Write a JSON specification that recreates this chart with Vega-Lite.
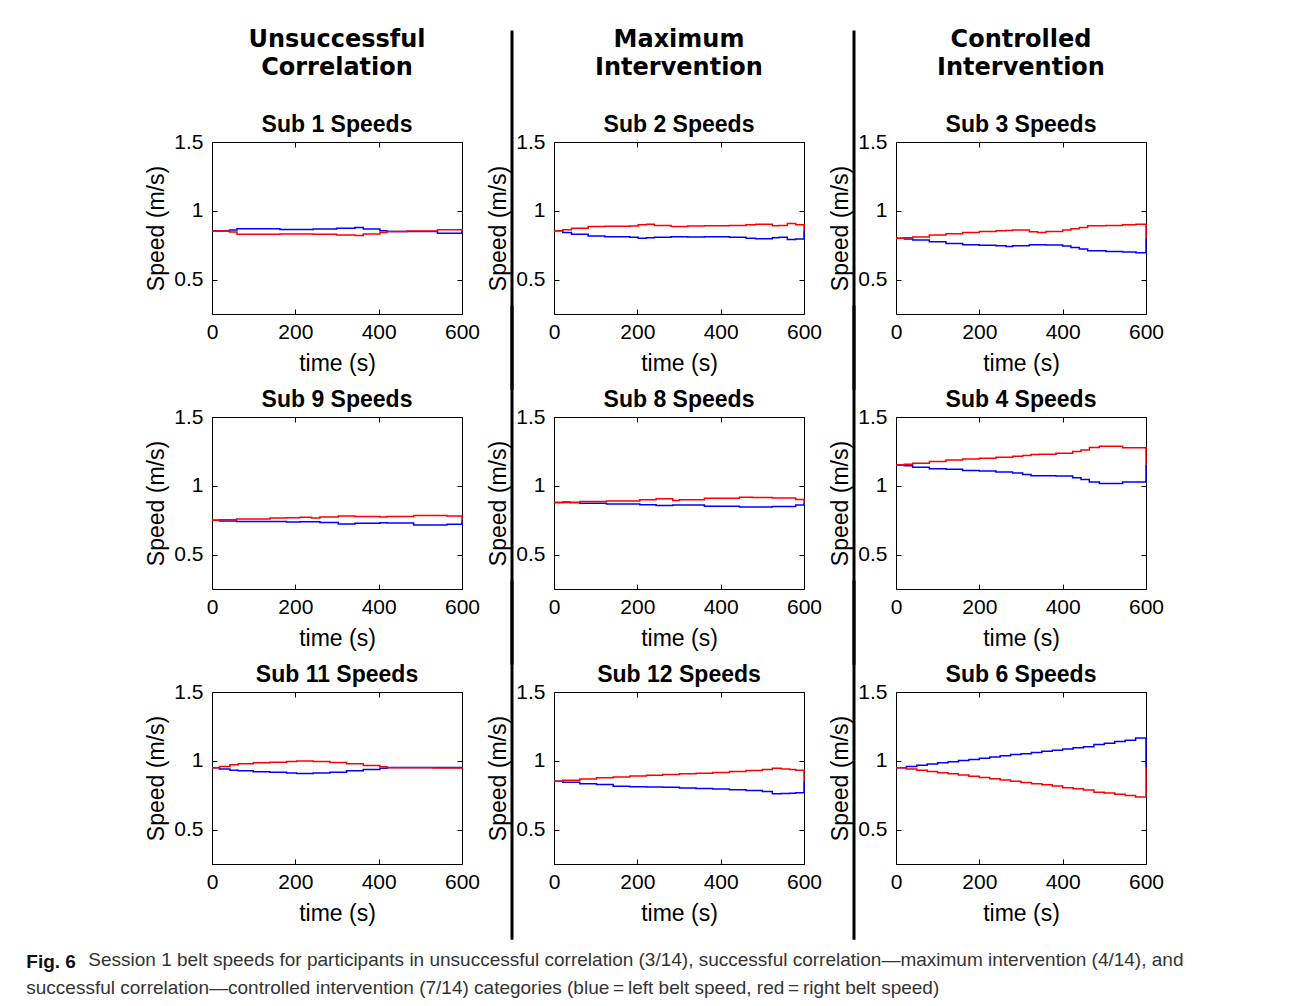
{
  "$schema": "https://vega.github.io/schema/vega-lite/v6.json",
  "padding": {"left": 26, "top": 27, "right": 5, "bottom": 2},
  "background": "white",
  "config": {
    "view": {"stroke": "black", "strokeWidth": 1},
    "axis": {"domain": false, "grid": false, "tickSize": -5, "tickColor": "black", "tickWidth": 1, "labelFlush": false,
      "labelFont": "Liberation Sans", "labelFontSize": 21, "labelColor": "black",
      "titleFont": "Liberation Sans", "titleFontSize": 23, "titleFontWeight": "normal", "titleColor": "black"},
    "axisBottom": {"labelPadding": 12, "titlePadding": 10},
    "axisLeft": {"labelPadding": 14, "titlePadding": 5},
    "title": {"font": "Liberation Sans", "fontSize": 23, "fontWeight": "bold", "color": "black", "offset": -6, "frame": "group"}
  },
  "title": {
    "text": "Session 1 belt speeds for participants in unsuccessful correlation (3/14), successful correlation\u2014maximum intervention (4/14), and",
    "orient": "bottom", "anchor": "start", "frame": "bounds", "dx": 62, "dy": -47, "offset": 0,
    "font": "Liberation Sans", "fontSize": 19, "fontWeight": "normal", "color": "#333333"
  },
  "datasets": {
    "s1": [
      {"t": 0, "l": 0.853, "r": 0.853}, {"t": 42, "l": 0.860, "r": 0.846}, {"t": 60, "l": 0.870, "r": 0.829},
      {"t": 163, "l": 0.865, "r": 0.831}, {"t": 243, "l": 0.867, "r": 0.829}, {"t": 299, "l": 0.874, "r": 0.824},
      {"t": 343, "l": 0.879, "r": 0.821}, {"t": 363, "l": 0.867, "r": 0.831}, {"t": 403, "l": 0.855, "r": 0.843},
      {"t": 420, "l": 0.850, "r": 0.850}, {"t": 468, "l": 0.850, "r": 0.853}, {"t": 541, "l": 0.836, "r": 0.862},
      {"t": 600, "l": 0.853, "r": 0.853}
    ],
    "s2": [
      {"t": 0, "l": 0.855, "r": 0.855}, {"t": 21, "l": 0.843, "r": 0.862}, {"t": 42, "l": 0.829, "r": 0.874},
      {"t": 82, "l": 0.816, "r": 0.886}, {"t": 122, "l": 0.812, "r": 0.887}, {"t": 182, "l": 0.807, "r": 0.889},
      {"t": 202, "l": 0.800, "r": 0.899}, {"t": 222, "l": 0.804, "r": 0.902}, {"t": 241, "l": 0.807, "r": 0.894},
      {"t": 281, "l": 0.812, "r": 0.886}, {"t": 321, "l": 0.809, "r": 0.889}, {"t": 361, "l": 0.811, "r": 0.891},
      {"t": 421, "l": 0.807, "r": 0.894}, {"t": 461, "l": 0.800, "r": 0.899}, {"t": 484, "l": 0.797, "r": 0.902},
      {"t": 524, "l": 0.804, "r": 0.891}, {"t": 540, "l": 0.807, "r": 0.894}, {"t": 560, "l": 0.792, "r": 0.908},
      {"t": 580, "l": 0.795, "r": 0.899}, {"t": 600, "l": 0.855, "r": 0.855}
    ],
    "s3": [
      {"t": 0, "l": 0.800, "r": 0.800}, {"t": 20, "l": 0.795, "r": 0.804}, {"t": 40, "l": 0.787, "r": 0.809},
      {"t": 80, "l": 0.775, "r": 0.824}, {"t": 120, "l": 0.763, "r": 0.833}, {"t": 160, "l": 0.754, "r": 0.843},
      {"t": 200, "l": 0.749, "r": 0.850}, {"t": 240, "l": 0.746, "r": 0.855}, {"t": 264, "l": 0.741, "r": 0.857},
      {"t": 280, "l": 0.746, "r": 0.860}, {"t": 320, "l": 0.754, "r": 0.848}, {"t": 340, "l": 0.753, "r": 0.843},
      {"t": 360, "l": 0.751, "r": 0.850}, {"t": 400, "l": 0.744, "r": 0.860}, {"t": 420, "l": 0.734, "r": 0.870},
      {"t": 440, "l": 0.722, "r": 0.879}, {"t": 460, "l": 0.710, "r": 0.891}, {"t": 504, "l": 0.705, "r": 0.894},
      {"t": 544, "l": 0.700, "r": 0.899}, {"t": 576, "l": 0.696, "r": 0.903}, {"t": 600, "l": 0.800, "r": 0.800}
    ],
    "s9": [
      {"t": 0, "l": 0.749, "r": 0.749}, {"t": 18, "l": 0.744, "r": 0.754}, {"t": 59, "l": 0.741, "r": 0.759},
      {"t": 139, "l": 0.741, "r": 0.766}, {"t": 179, "l": 0.737, "r": 0.768}, {"t": 211, "l": 0.738, "r": 0.771},
      {"t": 239, "l": 0.739, "r": 0.766}, {"t": 259, "l": 0.734, "r": 0.773}, {"t": 303, "l": 0.722, "r": 0.780},
      {"t": 343, "l": 0.727, "r": 0.776}, {"t": 403, "l": 0.732, "r": 0.773}, {"t": 420, "l": 0.729, "r": 0.776},
      {"t": 484, "l": 0.715, "r": 0.785}, {"t": 564, "l": 0.720, "r": 0.780}, {"t": 600, "l": 0.749, "r": 0.749}
    ],
    "s8": [
      {"t": 0, "l": 0.878, "r": 0.878}, {"t": 22, "l": 0.883, "r": 0.878}, {"t": 38, "l": 0.878, "r": 0.878},
      {"t": 62, "l": 0.873, "r": 0.885}, {"t": 126, "l": 0.868, "r": 0.890}, {"t": 206, "l": 0.863, "r": 0.898},
      {"t": 245, "l": 0.856, "r": 0.905}, {"t": 285, "l": 0.861, "r": 0.893}, {"t": 301, "l": 0.861, "r": 0.898},
      {"t": 361, "l": 0.851, "r": 0.910}, {"t": 445, "l": 0.846, "r": 0.917}, {"t": 476, "l": 0.846, "r": 0.915},
      {"t": 524, "l": 0.849, "r": 0.912}, {"t": 580, "l": 0.861, "r": 0.900}, {"t": 600, "l": 0.878, "r": 0.878}
    ],
    "s4": [
      {"t": 0, "l": 1.151, "r": 1.151}, {"t": 20, "l": 1.146, "r": 1.156}, {"t": 40, "l": 1.134, "r": 1.163},
      {"t": 80, "l": 1.124, "r": 1.176}, {"t": 120, "l": 1.120, "r": 1.188}, {"t": 160, "l": 1.112, "r": 1.195},
      {"t": 200, "l": 1.107, "r": 1.200}, {"t": 240, "l": 1.100, "r": 1.207}, {"t": 280, "l": 1.093, "r": 1.215},
      {"t": 304, "l": 1.083, "r": 1.220}, {"t": 324, "l": 1.073, "r": 1.227}, {"t": 344, "l": 1.073, "r": 1.229},
      {"t": 384, "l": 1.071, "r": 1.237}, {"t": 424, "l": 1.059, "r": 1.249}, {"t": 444, "l": 1.046, "r": 1.261},
      {"t": 464, "l": 1.027, "r": 1.278}, {"t": 488, "l": 1.017, "r": 1.288}, {"t": 544, "l": 1.027, "r": 1.276},
      {"t": 600, "l": 1.151, "r": 1.151}
    ],
    "s11": [
      {"t": 0, "l": 0.949, "r": 0.949}, {"t": 18, "l": 0.941, "r": 0.959}, {"t": 43, "l": 0.932, "r": 0.971},
      {"t": 63, "l": 0.927, "r": 0.978}, {"t": 99, "l": 0.920, "r": 0.985}, {"t": 139, "l": 0.917, "r": 0.990},
      {"t": 179, "l": 0.912, "r": 0.995}, {"t": 203, "l": 0.907, "r": 0.998}, {"t": 243, "l": 0.912, "r": 0.995},
      {"t": 283, "l": 0.917, "r": 0.988}, {"t": 323, "l": 0.927, "r": 0.978}, {"t": 363, "l": 0.937, "r": 0.966},
      {"t": 403, "l": 0.946, "r": 0.956}, {"t": 420, "l": 0.951, "r": 0.949}, {"t": 530, "l": 0.951, "r": 0.947},
      {"t": 600, "l": 0.949, "r": 0.949}
    ],
    "s12": [
      {"t": 0, "l": 0.851, "r": 0.851}, {"t": 21, "l": 0.844, "r": 0.859}, {"t": 62, "l": 0.834, "r": 0.868},
      {"t": 102, "l": 0.827, "r": 0.876}, {"t": 142, "l": 0.815, "r": 0.883}, {"t": 182, "l": 0.812, "r": 0.890},
      {"t": 222, "l": 0.810, "r": 0.895}, {"t": 261, "l": 0.807, "r": 0.900}, {"t": 301, "l": 0.802, "r": 0.905},
      {"t": 341, "l": 0.798, "r": 0.910}, {"t": 381, "l": 0.795, "r": 0.915}, {"t": 421, "l": 0.790, "r": 0.922},
      {"t": 461, "l": 0.785, "r": 0.929}, {"t": 500, "l": 0.776, "r": 0.937}, {"t": 524, "l": 0.761, "r": 0.946},
      {"t": 545, "l": 0.762, "r": 0.941}, {"t": 565, "l": 0.764, "r": 0.937}, {"t": 580, "l": 0.768, "r": 0.932},
      {"t": 600, "l": 0.851, "r": 0.851}
    ],
    "s6": [
      {"t": 0, "l": 0.949, "r": 0.949}, {"t": 25, "l": 0.958, "r": 0.940}, {"t": 50, "l": 0.967, "r": 0.931},
      {"t": 75, "l": 0.977, "r": 0.922}, {"t": 100, "l": 0.985, "r": 0.913}, {"t": 125, "l": 0.994, "r": 0.905},
      {"t": 150, "l": 1.002, "r": 0.896}, {"t": 175, "l": 1.010, "r": 0.887}, {"t": 200, "l": 1.018, "r": 0.878},
      {"t": 225, "l": 1.027, "r": 0.869}, {"t": 250, "l": 1.036, "r": 0.860}, {"t": 275, "l": 1.045, "r": 0.851},
      {"t": 300, "l": 1.052, "r": 0.842}, {"t": 325, "l": 1.060, "r": 0.834}, {"t": 350, "l": 1.069, "r": 0.826},
      {"t": 375, "l": 1.077, "r": 0.816}, {"t": 400, "l": 1.085, "r": 0.805}, {"t": 425, "l": 1.094, "r": 0.797},
      {"t": 450, "l": 1.103, "r": 0.787}, {"t": 475, "l": 1.118, "r": 0.772}, {"t": 500, "l": 1.127, "r": 0.766},
      {"t": 525, "l": 1.140, "r": 0.757}, {"t": 550, "l": 1.150, "r": 0.748}, {"t": 575, "l": 1.165, "r": 0.737},
      {"t": 600, "l": 0.949, "r": 0.949}
    ]
  },
  "vconcat": [
    {
      "title": {
        "text": "Fig. 6",
        "subtitle": "successful correlation\u2014controlled intervention (7/14) categories (blue\u2009=\u2009left belt speed, red\u2009=\u2009right belt speed)",
        "orient": "bottom", "anchor": "start", "frame": "bounds", "dx": -119, "offset": 12,
        "font": "Liberation Sans", "fontSize": 19, "fontWeight": "bold", "color": "#111111",
        "subtitleFont": "Liberation Sans", "subtitleFontSize": 19, "subtitleFontWeight": "normal", "subtitleColor": "#333333", "subtitlePadding": 7
      },
      "columns": 5,
      "bounds": "flush",
      "spacing": {"row": 103, "column": 42},
      "concat": [
        {"width": 250, "height": 172, "data": {"name": "s1"},
          "title": {"text": ["Unsuccessful", "Correlation"], "font": "DejaVu Sans", "fontSize": 24, "fontWeight": "bold", "lineHeight": 28, "subtitle": "Sub 1 Speeds", "subtitleFont": "Liberation Sans", "subtitleFontSize": 23, "subtitleFontWeight": "bold", "subtitleColor": "black", "subtitlePadding": 34},
          "layer": [
            {"mark": {"type": "line", "interpolate": "step-after", "color": "#0000ff", "strokeWidth": 1.5},
              "encoding": {"x": {"field": "t", "type": "quantitative", "scale": {"domain": [0, 600], "nice": false}, "axis": {"values": [0, 200, 400, 600], "format": "d", "title": "time (s)"}},
                "y": {"field": "l", "type": "quantitative", "scale": {"domain": [0.25, 1.5], "nice": false, "zero": false}, "axis": {"values": [0.5, 1, 1.5], "format": "~g", "title": "Speed (m/s)"}}}},
            {"mark": {"type": "line", "interpolate": "step-after", "color": "#ff0000", "strokeWidth": 1.5},
              "encoding": {"x": {"field": "t", "type": "quantitative", "axis": {"orient": "top", "values": [0, 200, 400, 600], "labels": false, "title": null}},
                "y": {"field": "r", "type": "quantitative", "axis": {"orient": "right", "values": [0.5, 1, 1.5], "labels": false, "title": null}}}}
          ],
          "resolve": {"axis": {"x": "independent", "y": "independent"}}},
        {"width": 8, "height": 172, "view": {"stroke": null}, "data": {"values": [{}]},
          "mark": {"type": "rule", "color": "black", "strokeWidth": 3, "clip": false},
          "encoding": {"x": {"datum": 1, "type": "quantitative", "scale": {"domain": [0, 1]}, "axis": null},
            "y": {"datum": 2.31, "type": "quantitative", "scale": {"domain": [0.25, 1.5]}, "axis": null}, "y2": {"datum": -0.3}}},
        {"width": 250, "height": 172, "data": {"name": "s2"},
          "title": {"text": ["Maximum", "Intervention"], "font": "DejaVu Sans", "fontSize": 24, "fontWeight": "bold", "lineHeight": 28, "subtitle": "Sub 2 Speeds", "subtitleFont": "Liberation Sans", "subtitleFontSize": 23, "subtitleFontWeight": "bold", "subtitleColor": "black", "subtitlePadding": 34},
          "layer": [
            {"mark": {"type": "line", "interpolate": "step-after", "color": "#0000ff", "strokeWidth": 1.5},
              "encoding": {"x": {"field": "t", "type": "quantitative", "scale": {"domain": [0, 600], "nice": false}, "axis": {"values": [0, 200, 400, 600], "format": "d", "title": "time (s)"}},
                "y": {"field": "l", "type": "quantitative", "scale": {"domain": [0.25, 1.5], "nice": false, "zero": false}, "axis": {"values": [0.5, 1, 1.5], "format": "~g", "title": "Speed (m/s)"}}}},
            {"mark": {"type": "line", "interpolate": "step-after", "color": "#ff0000", "strokeWidth": 1.5},
              "encoding": {"x": {"field": "t", "type": "quantitative", "axis": {"orient": "top", "values": [0, 200, 400, 600], "labels": false, "title": null}},
                "y": {"field": "r", "type": "quantitative", "axis": {"orient": "right", "values": [0.5, 1, 1.5], "labels": false, "title": null}}}}
          ],
          "resolve": {"axis": {"x": "independent", "y": "independent"}}},
        {"width": 8, "height": 172, "view": {"stroke": null}, "data": {"values": [{}]},
          "mark": {"type": "rule", "color": "black", "strokeWidth": 3, "clip": false},
          "encoding": {"x": {"datum": 1, "type": "quantitative", "scale": {"domain": [0, 1]}, "axis": null},
            "y": {"datum": 2.31, "type": "quantitative", "scale": {"domain": [0.25, 1.5]}, "axis": null}, "y2": {"datum": -0.3}}},
        {"width": 250, "height": 172, "data": {"name": "s3"},
          "title": {"text": ["Controlled", "Intervention"], "font": "DejaVu Sans", "fontSize": 24, "fontWeight": "bold", "lineHeight": 28, "subtitle": "Sub 3 Speeds", "subtitleFont": "Liberation Sans", "subtitleFontSize": 23, "subtitleFontWeight": "bold", "subtitleColor": "black", "subtitlePadding": 34},
          "layer": [
            {"mark": {"type": "line", "interpolate": "step-after", "color": "#0000ff", "strokeWidth": 1.5},
              "encoding": {"x": {"field": "t", "type": "quantitative", "scale": {"domain": [0, 600], "nice": false}, "axis": {"values": [0, 200, 400, 600], "format": "d", "title": "time (s)"}},
                "y": {"field": "l", "type": "quantitative", "scale": {"domain": [0.25, 1.5], "nice": false, "zero": false}, "axis": {"values": [0.5, 1, 1.5], "format": "~g", "title": "Speed (m/s)"}}}},
            {"mark": {"type": "line", "interpolate": "step-after", "color": "#ff0000", "strokeWidth": 1.5},
              "encoding": {"x": {"field": "t", "type": "quantitative", "axis": {"orient": "top", "values": [0, 200, 400, 600], "labels": false, "title": null}},
                "y": {"field": "r", "type": "quantitative", "axis": {"orient": "right", "values": [0.5, 1, 1.5], "labels": false, "title": null}}}}
          ],
          "resolve": {"axis": {"x": "independent", "y": "independent"}}},

        {"width": 250, "height": 172, "data": {"name": "s9"}, "title": "Sub 9 Speeds",
          "layer": [
            {"mark": {"type": "line", "interpolate": "step-after", "color": "#0000ff", "strokeWidth": 1.5},
              "encoding": {"x": {"field": "t", "type": "quantitative", "scale": {"domain": [0, 600], "nice": false}, "axis": {"values": [0, 200, 400, 600], "format": "d", "title": "time (s)"}},
                "y": {"field": "l", "type": "quantitative", "scale": {"domain": [0.25, 1.5], "nice": false, "zero": false}, "axis": {"values": [0.5, 1, 1.5], "format": "~g", "title": "Speed (m/s)"}}}},
            {"mark": {"type": "line", "interpolate": "step-after", "color": "#ff0000", "strokeWidth": 1.5},
              "encoding": {"x": {"field": "t", "type": "quantitative", "axis": {"orient": "top", "values": [0, 200, 400, 600], "labels": false, "title": null}},
                "y": {"field": "r", "type": "quantitative", "axis": {"orient": "right", "values": [0.5, 1, 1.5], "labels": false, "title": null}}}}
          ],
          "resolve": {"axis": {"x": "independent", "y": "independent"}}},
        {"width": 8, "height": 172, "view": {"stroke": null}, "data": {"values": [{}]},
          "mark": {"type": "rule", "color": "black", "strokeWidth": 3, "clip": false},
          "encoding": {"x": {"datum": 1, "type": "quantitative", "scale": {"domain": [0, 1]}, "axis": null},
            "y": {"datum": 2.31, "type": "quantitative", "scale": {"domain": [0.25, 1.5]}, "axis": null}, "y2": {"datum": -0.3}}},
        {"width": 250, "height": 172, "data": {"name": "s8"}, "title": "Sub 8 Speeds",
          "layer": [
            {"mark": {"type": "line", "interpolate": "step-after", "color": "#0000ff", "strokeWidth": 1.5},
              "encoding": {"x": {"field": "t", "type": "quantitative", "scale": {"domain": [0, 600], "nice": false}, "axis": {"values": [0, 200, 400, 600], "format": "d", "title": "time (s)"}},
                "y": {"field": "l", "type": "quantitative", "scale": {"domain": [0.25, 1.5], "nice": false, "zero": false}, "axis": {"values": [0.5, 1, 1.5], "format": "~g", "title": "Speed (m/s)"}}}},
            {"mark": {"type": "line", "interpolate": "step-after", "color": "#ff0000", "strokeWidth": 1.5},
              "encoding": {"x": {"field": "t", "type": "quantitative", "axis": {"orient": "top", "values": [0, 200, 400, 600], "labels": false, "title": null}},
                "y": {"field": "r", "type": "quantitative", "axis": {"orient": "right", "values": [0.5, 1, 1.5], "labels": false, "title": null}}}}
          ],
          "resolve": {"axis": {"x": "independent", "y": "independent"}}},
        {"width": 8, "height": 172, "view": {"stroke": null}, "data": {"values": [{}]},
          "mark": {"type": "rule", "color": "black", "strokeWidth": 3, "clip": false},
          "encoding": {"x": {"datum": 1, "type": "quantitative", "scale": {"domain": [0, 1]}, "axis": null},
            "y": {"datum": 2.31, "type": "quantitative", "scale": {"domain": [0.25, 1.5]}, "axis": null}, "y2": {"datum": -0.3}}},
        {"width": 250, "height": 172, "data": {"name": "s4"}, "title": "Sub 4 Speeds",
          "layer": [
            {"mark": {"type": "line", "interpolate": "step-after", "color": "#0000ff", "strokeWidth": 1.5},
              "encoding": {"x": {"field": "t", "type": "quantitative", "scale": {"domain": [0, 600], "nice": false}, "axis": {"values": [0, 200, 400, 600], "format": "d", "title": "time (s)"}},
                "y": {"field": "l", "type": "quantitative", "scale": {"domain": [0.25, 1.5], "nice": false, "zero": false}, "axis": {"values": [0.5, 1, 1.5], "format": "~g", "title": "Speed (m/s)"}}}},
            {"mark": {"type": "line", "interpolate": "step-after", "color": "#ff0000", "strokeWidth": 1.5},
              "encoding": {"x": {"field": "t", "type": "quantitative", "axis": {"orient": "top", "values": [0, 200, 400, 600], "labels": false, "title": null}},
                "y": {"field": "r", "type": "quantitative", "axis": {"orient": "right", "values": [0.5, 1, 1.5], "labels": false, "title": null}}}}
          ],
          "resolve": {"axis": {"x": "independent", "y": "independent"}}},

        {"width": 250, "height": 172, "data": {"name": "s11"}, "title": "Sub 11 Speeds",
          "layer": [
            {"mark": {"type": "line", "interpolate": "step-after", "color": "#0000ff", "strokeWidth": 1.5},
              "encoding": {"x": {"field": "t", "type": "quantitative", "scale": {"domain": [0, 600], "nice": false}, "axis": {"values": [0, 200, 400, 600], "format": "d", "title": "time (s)"}},
                "y": {"field": "l", "type": "quantitative", "scale": {"domain": [0.25, 1.5], "nice": false, "zero": false}, "axis": {"values": [0.5, 1, 1.5], "format": "~g", "title": "Speed (m/s)"}}}},
            {"mark": {"type": "line", "interpolate": "step-after", "color": "#ff0000", "strokeWidth": 1.5},
              "encoding": {"x": {"field": "t", "type": "quantitative", "axis": {"orient": "top", "values": [0, 200, 400, 600], "labels": false, "title": null}},
                "y": {"field": "r", "type": "quantitative", "axis": {"orient": "right", "values": [0.5, 1, 1.5], "labels": false, "title": null}}}}
          ],
          "resolve": {"axis": {"x": "independent", "y": "independent"}}},
        {"width": 8, "height": 172, "view": {"stroke": null}, "data": {"values": [{}]},
          "mark": {"type": "rule", "color": "black", "strokeWidth": 3, "clip": false},
          "encoding": {"x": {"datum": 1, "type": "quantitative", "scale": {"domain": [0, 1]}, "axis": null},
            "y": {"datum": 2.31, "type": "quantitative", "scale": {"domain": [0.25, 1.5]}, "axis": null}, "y2": {"datum": -0.3}}},
        {"width": 250, "height": 172, "data": {"name": "s12"}, "title": "Sub 12 Speeds",
          "layer": [
            {"mark": {"type": "line", "interpolate": "step-after", "color": "#0000ff", "strokeWidth": 1.5},
              "encoding": {"x": {"field": "t", "type": "quantitative", "scale": {"domain": [0, 600], "nice": false}, "axis": {"values": [0, 200, 400, 600], "format": "d", "title": "time (s)"}},
                "y": {"field": "l", "type": "quantitative", "scale": {"domain": [0.25, 1.5], "nice": false, "zero": false}, "axis": {"values": [0.5, 1, 1.5], "format": "~g", "title": "Speed (m/s)"}}}},
            {"mark": {"type": "line", "interpolate": "step-after", "color": "#ff0000", "strokeWidth": 1.5},
              "encoding": {"x": {"field": "t", "type": "quantitative", "axis": {"orient": "top", "values": [0, 200, 400, 600], "labels": false, "title": null}},
                "y": {"field": "r", "type": "quantitative", "axis": {"orient": "right", "values": [0.5, 1, 1.5], "labels": false, "title": null}}}}
          ],
          "resolve": {"axis": {"x": "independent", "y": "independent"}}},
        {"width": 8, "height": 172, "view": {"stroke": null}, "data": {"values": [{}]},
          "mark": {"type": "rule", "color": "black", "strokeWidth": 3, "clip": false},
          "encoding": {"x": {"datum": 1, "type": "quantitative", "scale": {"domain": [0, 1]}, "axis": null},
            "y": {"datum": 2.31, "type": "quantitative", "scale": {"domain": [0.25, 1.5]}, "axis": null}, "y2": {"datum": -0.3}}},
        {"width": 250, "height": 172, "data": {"name": "s6"}, "title": "Sub 6 Speeds",
          "layer": [
            {"mark": {"type": "line", "interpolate": "step-after", "color": "#0000ff", "strokeWidth": 1.5},
              "encoding": {"x": {"field": "t", "type": "quantitative", "scale": {"domain": [0, 600], "nice": false}, "axis": {"values": [0, 200, 400, 600], "format": "d", "title": "time (s)"}},
                "y": {"field": "l", "type": "quantitative", "scale": {"domain": [0.25, 1.5], "nice": false, "zero": false}, "axis": {"values": [0.5, 1, 1.5], "format": "~g", "title": "Speed (m/s)"}}}},
            {"mark": {"type": "line", "interpolate": "step-after", "color": "#ff0000", "strokeWidth": 1.5},
              "encoding": {"x": {"field": "t", "type": "quantitative", "axis": {"orient": "top", "values": [0, 200, 400, 600], "labels": false, "title": null}},
                "y": {"field": "r", "type": "quantitative", "axis": {"orient": "right", "values": [0.5, 1, 1.5], "labels": false, "title": null}}}}
          ],
          "resolve": {"axis": {"x": "independent", "y": "independent"}}}
      ]
    }
  ]
}
